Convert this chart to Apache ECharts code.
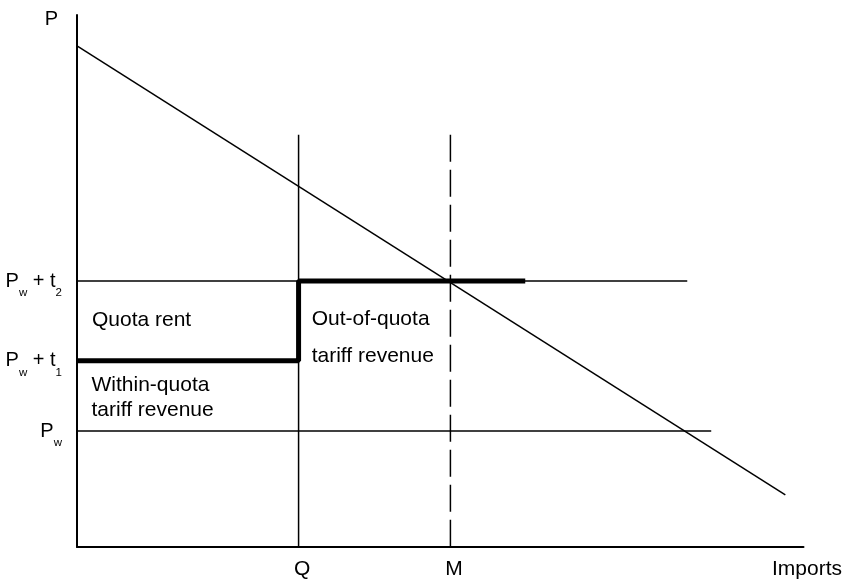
<!DOCTYPE html>
<html>
<head>
<meta charset="utf-8">
<script src="https://cdn.jsdelivr.net/npm/echarts@6/dist/echarts.min.js"></script>
<style>
html,body{margin:0;padding:0;background:#fff;}
#chart{width:845px;height:580px;}
</style>
</head>
<body>
<div id="chart"></div>
<script>
// ---- data ----
var quotaQ = 30.5;          // Q
var importsM = 51.4;        // M
var priceW = 21.8;          // Pw
var priceT1 = 35;           // Pw + t1
var priceT2 = 50;           // Pw + t2
var verticalTop = 77.5;     // top of Q and M lines
var demandLine = [[0, 94.2], [97.5, 9.8]];
var pwLineEnd = 87.3;
var pt2LineEnd = 84.0;
var thickTopEnd = 61.7;
var xTickValues = [quotaQ, importsM, 100];
var xTickLabels = ['Q', 'M', 'Imports'];
var yTickValues = [priceW, priceT1, priceT2, 100];
var yTickLabels = ['{p|P}{s|w}', '{p|P}{s|w}{p| + t}{s|1}', '{p|P}{s|w}{p| + t}{s|2}', '{top|P}'];
var areaTexts = [
  [2.06, 42.7, 'Quota rent'],
  [2.0, 30.5, 'Within-quota'],
  [2.0, 25.8, 'tariff revenue'],
  [32.3, 42.9, 'Out-of-quota'],
  [32.3, 35.9, 'tariff revenue']
];

var FONT = '"Liberation Sans", Arial, Helvetica, sans-serif';
var chart = echarts.init(document.getElementById('chart'), null, {renderer: 'canvas'});

function seg(data, width, dash) {
  return {
    type: 'line', data: data, symbol: 'none', silent: true,
    lineStyle: {color: '#000', width: width, type: dash || 'solid'},
    z: width > 3 ? 5 : 3
  };
}

var option = {
  animation: false,
  backgroundColor: '#fff',
  grid: {left: 77, right: 41, top: 15, bottom: 32, containLabel: false},
  xAxis: {
    type: 'value', min: 0, max: 100,
    splitLine: {show: false}, axisTick: {show: false},
    axisLine: {lineStyle: {color: '#000', width: 2}},
    axisLabel: {
      customValues: xTickValues,
      margin: 12,
      formatter: function (v) {
        var i = xTickValues.indexOf(v);
        return '{l|' + (i >= 0 ? xTickLabels[i] : '') + '}';
      },
      rich: {l: {fontFamily: FONT, fontSize: 21, color: '#000', padding: [0, 0, 0, 7], lineHeight: 21}}
    }
  },
  yAxis: {
    type: 'value', min: 0, max: 100,
    splitLine: {show: false}, axisTick: {show: false},
    axisLine: {lineStyle: {color: '#000', width: 2}},
    axisLabel: {
      customValues: yTickValues,
      margin: 15,
      formatter: function (v) {
        var i = yTickValues.indexOf(v);
        return i >= 0 ? yTickLabels[i] : '';
      },
      rich: {
        p: {fontFamily: FONT, fontSize: 20, color: '#000', lineHeight: 20, verticalAlign: 'top'},
        s: {fontFamily: FONT, fontSize: 11.5, color: '#000', lineHeight: 12, padding: [16, 0, 0, 0], verticalAlign: 'top'},
        top: {fontFamily: FONT, fontSize: 20, color: '#000', lineHeight: 20, padding: [8, 4, 0, 0]}
      }
    }
  },
  series: [
    seg(demandLine, 1.5),
    seg([[0, priceW], [pwLineEnd, priceW]], 1.5),
    seg([[0, priceT2], [pt2LineEnd, priceT2]], 1.5),
    seg([[quotaQ, 0], [quotaQ, verticalTop]], 1.5),
    seg([[importsM, verticalTop], [importsM, 0]], 1.5, [27, 8]),
    seg([[0, priceT1], [quotaQ, priceT1], [quotaQ, priceT2], [thickTopEnd, priceT2]], 5),
    {
      type: 'scatter', symbolSize: 0, silent: true, z: 6,
      itemStyle: {opacity: 1},
      data: areaTexts.map(function (d) { return {value: [d[0], d[1]], name: d[2]}; }),
      label: {
        show: true, position: 'right', distance: 0,
        formatter: function (p) { return p.name; },
        fontFamily: FONT, fontSize: 21, color: '#000', opacity: 1
      }
    }
  ]
};
chart.setOption(option);
</script>
</body>
</html>
